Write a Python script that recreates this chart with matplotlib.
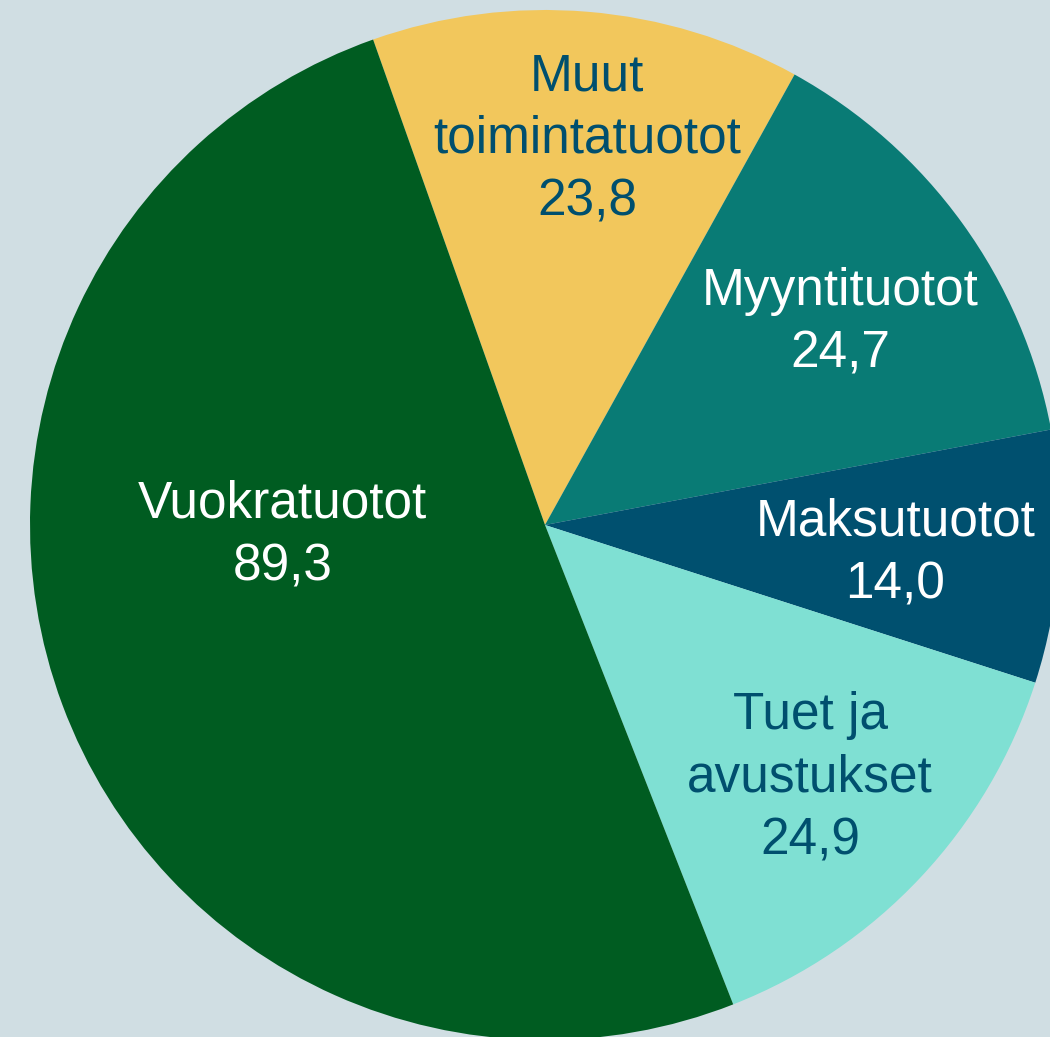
import matplotlib
matplotlib.use("Agg")
import matplotlib.pyplot as plt

# revenue split (M€)
labels = ["Muut\ntoimintatuotot", "Myyntituotot", "Maksutuotot", "Tuet ja\navustukset", "Vuokratuotot"]
values = [23.8, 24.7, 14.0, 24.9, 89.3]
value_text = ["23,8", "24,7", "14,0", "24,9", "89,3"]
colors = ["#F2C75C", "#097B75", "#00506F", "#7FE0D3", "#005C21"]
text_colors = ["#004F6E", "white", "white", "#004F6E", "white"]

# label centres in pie units (radius 1)
label_pos = [(0.082, 0.749), (0.573, 0.393), (0.680, -0.056), (0.515, -0.492), (-0.509, -0.020)]

bg = "#D0DEE3"
fig = plt.figure(figsize=(10.5, 10.37), dpi=100, facecolor=bg)
ax = fig.add_axes([0, 0, 1, 1])
ax.set_facecolor(bg)

ax.pie(values, colors=colors, startangle=109.5, counterclock=False, radius=1,
       wedgeprops=dict(linewidth=0))

for lab, val, tc, (x, y) in zip(labels, value_text, text_colors, label_pos):
    ax.text(x, y, lab + "\n" + val, ha="center", va="center", color=tc,
            fontsize=37, family="Liberation Sans", linespacing=1.36)

# pie is cropped on the right edge
s = 515.0
ax.set_xlim(-545 / s, (1050 - 545) / s)
ax.set_ylim(-(1037 - 525) / s, 525 / s)
ax.set_aspect("equal")
ax.axis("off")

fig.savefig("out.png", dpi=100, facecolor=bg)
